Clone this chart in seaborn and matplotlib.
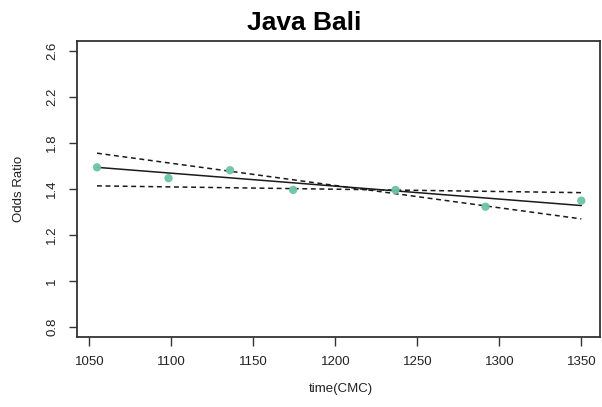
import numpy as np
import pandas as pd
import matplotlib
matplotlib.use("Agg")
import matplotlib.pyplot as plt
import seaborn as sns

# ---- data ----
time_cmc = [1054.7, 1098.3, 1135.8, 1174.3, 1236.7, 1291.6, 1350.0]
odds_ratio = [1.59, 1.496, 1.565, 1.397, 1.397, 1.324, 1.350]

fit_x = [1054.7, 1350.0]
fit_mid = [1.59, 1.329]
fit_band_a = [1.713, 1.271]
fit_band_b = [1.429, 1.385]

ytick_vals = [0.8, 1.0, 1.2, 1.4, 1.8, 2.2, 2.6]
ytick_labels = ["0.8", "1", "1.2", "1.4", "1.8", "2.2", "2.6"]
xticks = [1050, 1100, 1150, 1200, 1250, 1300, 1350]

title = "Java Bali"
xlabel = "time(CMC)"
ylabel = "Odds Ratio"

# ---- style ----
sns.set_style("ticks")
plt.rcParams["font.family"] = ["Liberation Sans", "DejaVu Sans"]

fig = plt.figure(figsize=(6.02, 4.07), dpi=100)
ax = fig.add_axes([0.1279, 0.1713, 0.8696, 0.7280])

# piecewise-linear axis: tick labels are evenly spaced
ext_vals = np.array([0.0] + ytick_vals + [6.6])
ext_idx = np.array([-4.0] + list(range(len(ytick_vals))) + [16.0])

def fwd(v):
    return np.interp(v, ext_vals, ext_idx)

def inv(i):
    return np.interp(i, ext_idx, ext_vals)

ax.set_yscale("function", functions=(fwd, inv))

pts = pd.DataFrame({"time": time_cmc, "or": odds_ratio})
fit = pd.DataFrame({"time": fit_x, "mid": fit_mid, "a": fit_band_a, "b": fit_band_b})

sns.lineplot(data=fit, x="time", y="mid", ax=ax, color="#1a1a1a", lw=1.1)
sns.lineplot(data=fit, x="time", y="a", ax=ax, color="#1a1a1a", lw=1.1,
             dashes=False, linestyle=(0, (3.2, 2.4)))
sns.lineplot(data=fit, x="time", y="b", ax=ax, color="#1a1a1a", lw=1.1,
             dashes=False, linestyle=(0, (3.2, 2.4)))
sns.scatterplot(data=pts, x="time", y="or", ax=ax, color="#6cc3a6", s=36,
                edgecolor="none", alpha=0.95, zorder=3)

ax.set_xlim(1042.5, 1361.7)
ax.set_ylim(0.7566, 2.688)
ax.set_xticks(xticks)
ax.set_xticklabels([str(t) for t in xticks])
ax.set_yticks(ytick_vals)
ax.set_yticklabels(ytick_labels, rotation=90, va="center")
ax.minorticks_off()

for s in ax.spines.values():
    s.set_visible(True)
    s.set_color("#333333")
    s.set_linewidth(1.3)

ax.tick_params(axis="x", length=6.5, width=1.0, color="#333333", pad=7,
               labelsize=9.5, labelcolor="#222222")
ax.tick_params(axis="y", length=5.5, width=1.0, color="#333333", pad=8,
               labelsize=9.5, labelcolor="#222222")

ax.set_xlabel(xlabel, fontsize=9.5, color="#222222")
ax.set_ylabel(ylabel, fontsize=9.5, color="#222222")
ax.xaxis.set_label_coords(0.5 + (341 - 338.7) / 523.5, -0.154)
ax.yaxis.set_label_coords(-0.0993, 0.5)

fig.text(0.505, 1 - 22.5 / 407, title, ha="center", va="center",
         fontsize=19, fontweight="bold", color="black")

fig.savefig("out.png", dpi=100)
